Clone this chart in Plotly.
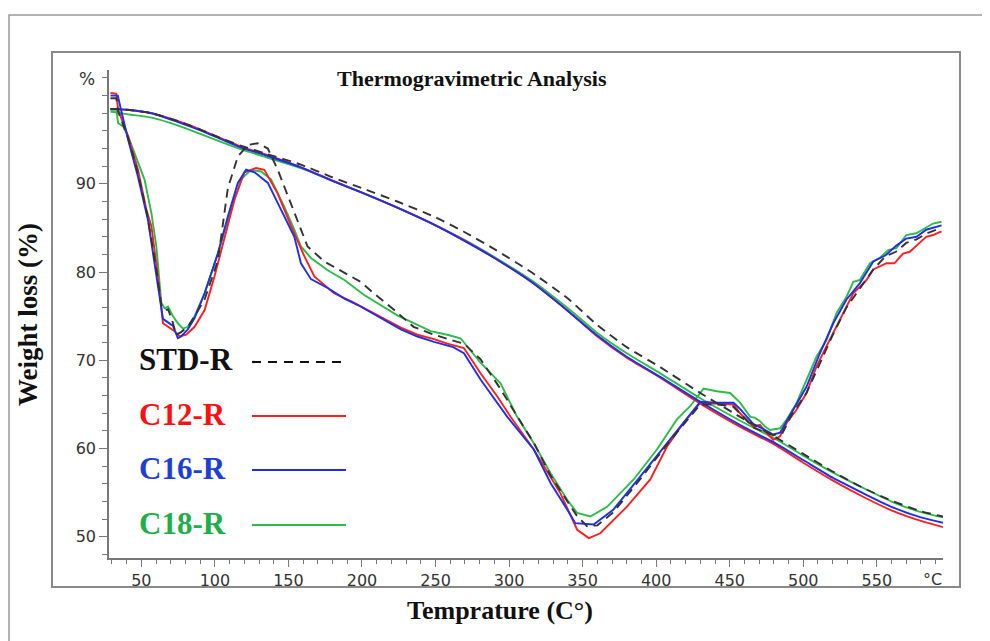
import plotly.graph_objects as go

# TG curves (smooth mass loss), shared temperature grid
tg_temp = [29, 40, 57, 75, 91, 105, 118, 135, 158, 179, 200, 224, 250, 269, 290,
           315, 340, 360, 380, 403, 430, 460, 480, 500, 520, 540, 560, 580, 595]
tg_std = [98.5, 98.4, 98.0, 97.1, 96.1, 95.1, 94.3, 93.4, 92.2, 90.8, 89.5, 88.0, 86.2, 84.6, 82.6,
          80.0, 77.0, 74.0, 71.5, 69.2, 66.3, 63.3, 61.4, 59.4, 57.4, 55.6, 54.1, 52.9, 52.3]
tg_c12 = [98.5, 98.4, 98.0, 97.1, 96.1, 95.1, 94.2, 93.3, 91.9, 90.45, 89.0, 87.3, 85.3, 83.65, 81.6,
          78.9, 75.6, 72.7, 70.3, 68.0, 65.1, 62.2, 60.5, 58.4, 56.4, 54.6, 53.0, 51.8, 51.1]
tg_c16 = [98.5, 98.4, 98.0, 97.0, 96.0, 95.0, 94.1, 93.2, 91.9, 90.4, 89.0, 87.3, 85.3, 83.6, 81.6,
          78.9, 75.6, 72.8, 70.4, 68.1, 65.3, 62.4, 60.7, 58.7, 56.7, 55.0, 53.4, 52.2, 51.6]
tg_c18 = [98.2, 97.9, 97.5, 96.6, 95.6, 94.7, 93.9, 93.0, 91.8, 90.4, 89.0, 87.3, 85.3, 83.7, 81.7,
          79.1, 75.9, 73.1, 70.8, 68.5, 65.7, 62.9, 61.2, 59.2, 57.3, 55.6, 54.0, 52.8, 52.2]

# DTG-like curves (the wavy ones)
std_t = [29, 33, 34.2, 41, 47.7, 54, 60, 63.6, 66, 68.1, 71, 73.7, 77, 81.6, 86.2, 93, 102, 108.8,
         115.6, 122.4, 129, 136, 142.7, 154, 163, 174.4, 188, 199, 208, 222, 235, 249, 264.8, 269.3,
         280.7, 294, 305, 317, 328, 340, 346, 353, 360, 371, 389, 407, 421, 430, 441, 452, 457, 466,
         472, 479.6, 486, 492, 502.2, 511, 520.4, 529.4, 538.5, 547.6, 556, 563, 570, 577, 584, 594]
std_v = [99.7, 99.7, 98.2, 95.2, 91.2, 86.5, 80.5, 76.3, 75.7, 75.8, 74.5, 72.9, 73.2, 73.8, 75.0,
         76.9, 81.3, 89.5, 93.1, 94.4, 94.6, 94.0, 91.6, 86.7, 82.9, 81.2, 79.9, 78.9, 77.6, 75.7,
         73.8, 72.9, 72.1, 71.9, 70.1, 66.8, 63.8, 60.6, 57.0, 53.9, 52.4, 51.2, 51.3, 52.8, 56.5,
         60.4, 63.2, 65.0, 65.0, 64.8, 64.0, 62.4, 62.0, 61.5, 61.8, 63.8, 66.3, 69.6, 73.0, 76.0,
         78.2, 80.3, 81.8, 82.3, 83.3, 83.7, 84.4, 85.0]

c12_t = [29, 33, 34.2, 41, 47.7, 53.4, 56.8, 61.3, 64.7, 68.1, 72.6, 76, 80.5, 86.2, 93, 99.7, 106.5,
         113.3, 120, 128, 133.6, 142.7, 151.8, 160.8, 167.6, 181, 192.5, 203.8, 215, 226.4, 237.7, 249,
         258, 269.3, 280.7, 292, 301, 316.8, 335, 346.3, 354.2, 362, 380, 396, 407.3, 418.6, 430, 441,
         452.6, 457, 466, 470.6, 475, 479.6, 484.2, 488.7, 495.4, 502.2, 509, 515.8, 524.9, 534, 543,
         547.6, 556.6, 562, 567.8, 572.4, 577, 583.6, 588.2, 594]
c12_v = [100.3, 100.2, 98.4, 95.4, 91.6, 87.1, 85.2, 79.5, 74.2, 73.8, 73.3, 72.7, 72.9, 73.8, 75.7,
         79.5, 84.0, 88.2, 91.3, 91.8, 91.6, 88.9, 85.2, 81.8, 79.5, 77.6, 76.7, 75.7, 74.8, 73.7,
         72.9, 72.4, 71.9, 71.4, 68.5, 65.9, 63.6, 59.9, 54.9, 50.8, 49.85, 50.4, 53.4, 56.5, 60.2,
         62.9, 65.2, 65.1, 65.0, 64.0, 62.5, 62.7, 61.75, 61.0, 61.4, 62.9, 64.4, 66.3, 69.3, 71.6,
         74.6, 77.6, 79.1, 80.3, 81.0, 81.0, 82.1, 82.3, 83.0, 84.0, 84.2, 84.6]

c16_t = [29, 34, 36, 41, 47.7, 54.5, 61.3, 64.7, 68.1, 71.5, 74.8, 77, 81.6, 86.2, 93, 102, 108.8,
         115.6, 121.2, 127, 136, 145, 154, 158.5, 165.3, 176.7, 188, 199, 215, 226.4, 237.7, 249, 262,
         269.3, 280.7, 298.8, 316.8, 328.2, 339.5, 345, 357.5, 371, 389, 407.3, 420.8, 430, 441, 452.6,
         457, 466, 472, 479.6, 484.2, 492, 502.2, 511.3, 520.4, 529.4, 538.5, 547.6, 556, 563.3, 570,
         577, 583.6, 594]
c16_v = [100.0, 100.0, 98.5, 95.0, 90.8, 85.9, 78.4, 74.7, 74.3, 73.9, 72.5, 72.7, 73.5, 74.8, 77.6,
         82.1, 86.3, 90.1, 91.6, 91.3, 90.1, 87.1, 84.0, 81.0, 79.2, 78.2, 77.0, 76.1, 74.6, 73.5,
         72.7, 72.1, 71.5, 70.8, 67.8, 63.6, 59.9, 56.1, 53.1, 51.55, 51.4, 53.1, 56.8, 60.6, 63.3,
         65.3, 65.2, 65.2, 64.5, 62.8, 62.3, 61.6, 61.8, 64.0, 67.0, 70.8, 74.2, 76.9, 78.75, 81.2,
         81.9, 83.0, 83.8, 84.0, 84.8, 85.3]

c18_t = [29, 33, 34.2, 37.6, 41, 47.7, 52.2, 56.8, 60.2, 63.6, 65.8, 68.1, 71.5, 74.8, 78.3, 81.6,
         86.2, 93, 102, 111, 117.8, 124.6, 131.3, 138.2, 147.2, 154, 158.5, 165.3, 176.7, 188, 201.5,
         224, 246.7, 258, 267, 280.7, 294.2, 305.5, 316.8, 328.2, 339.5, 346.3, 350, 355.3, 366.6,
         384.7, 400.5, 414.1, 423.1, 432.2, 441.2, 450.3, 457, 464, 467, 470.6, 474, 477.4, 484.2,
         488.7, 495.4, 502.2, 509, 515.8, 522.6, 529.4, 534, 538.5, 545.3, 552, 557.7, 563.3, 570,
         576.8, 583.6, 588.2, 594]
c18_v = [98.4, 98.4, 96.9, 96.5, 95.4, 92.3, 90.45, 86.7, 82.9, 76.5, 75.9, 76.1, 75.0, 74.2, 73.6,
         73.8, 75.0, 77.6, 82.1, 87.1, 90.5, 91.6, 91.4, 90.5, 87.4, 84.8, 82.9, 81.6, 80.2, 79.1,
         77.4, 75.1, 73.3, 72.9, 72.5, 69.7, 67.4, 63.6, 60.6, 57.2, 54.2, 52.7, 52.5, 52.3, 53.4,
         56.5, 59.9, 63.3, 64.8, 66.8, 66.5, 66.3, 65.2, 63.6, 63.5, 63.1, 62.5, 62.1, 62.3, 63.3,
         65.15, 67.8, 70.4, 72.3, 75.35, 77.2, 78.9, 79.1, 81.0, 81.6, 82.5, 82.7, 84.2, 84.4, 85.0,
         85.5, 85.7]

x_ticks = [50, 100, 150, 200, 250, 300, 350, 400, 450, 500, 550]
y_ticks = [50, 60, 70, 80, 90]

RED, BLUE, GREEN, BLACK = '#ff1f1f', '#1f2fe8', '#2dbb4a', '#333333'
DASH = '9px,6px'
SERIF = 'Liberation Serif, Times New Roman, serif'
SANS = 'DejaVu Sans, Verdana, sans-serif'

series = [
    ('STD-R', tg_std, std_t, std_v, BLACK, DASH, '#111111'),
    ('C12-R', tg_c12, c12_t, c12_v, RED, 'solid', '#ff1010'),
    ('C16-R', tg_c16, c16_t, c16_v, BLUE, 'solid', '#1e3ed6'),
    ('C18-R', tg_c18, c18_t, c18_v, GREEN, 'solid', '#1fae4a'),
]

fig = go.Figure()
# draw green first so red/blue/black sit on top like the original
for name, tg, dt, dv, col, dash, _ in [series[3], series[1], series[2], series[0]]:
    fig.add_trace(go.Scatter(x=tg_temp, y=tg, mode='lines', name=name,
                             line=dict(color=col, width=1.9, dash=dash, shape='spline', smoothing=0.6)))
    fig.add_trace(go.Scatter(x=dt, y=dv, mode='lines', name=name, showlegend=False,
                             line=dict(color=col, width=1.9, dash=dash)))

# page has an 8px body margin, so the figure is shrunk by that and positions offset
OFF = 8
W, H = 990 - OFF, 641 - OFF
L, T = 109 - OFF, 70 - OFF
R, B = OFF + W - 943, OFF + H - 558
pw, ph = W - L - R, H - T - B


def px(x):
    # page pixel x -> paper coordinate
    return (x - OFF - L) / pw


def py(y):
    # page pixel y -> paper coordinate
    return (H - B - (y - OFF)) / ph


shapes = []
# outer frame and inner frame
shapes.append(dict(type='rect', xref='paper', yref='paper', x0=px(9), x1=px(1000), y0=py(660), y1=py(15),
                   line=dict(color='#9a9a9a', width=1.5)))
shapes.append(dict(type='rect', xref='paper', yref='paper', x0=px(52), x1=px(960), y0=py(587), y1=py(52),
                   line=dict(color='#8a8a8a', width=2)))

annotations = []
# hand-drawn style legend: text then a line sample
leg_y = [360, 414, 468, 523]
for (name, _, _, _, col, dash, tcol), yy in zip(series, leg_y):
    annotations.append(dict(text='<b>%s</b>' % name, xref='paper', yref='paper', x=px(137), y=py(yy),
                            xanchor='left', yanchor='middle', showarrow=False,
                            font=dict(family=SERIF, size=31, color=tcol)))
    shapes.append(dict(type='line', xref='paper', yref='paper', x0=px(252), x1=px(346),
                       y0=py(yy + 2), y1=py(yy + 2),
                       line=dict(color=col if dash == 'solid' else '#111111', width=2.2,
                                 dash=dash if dash == 'solid' else '9px,7px')))

annotations += [
    dict(text='<b>Thermogravimetric Analysis</b>', xref='paper', yref='paper', x=px(472), y=py(78),
         xanchor='center', yanchor='middle', showarrow=False, font=dict(family=SERIF, size=22, color='#111')),
    dict(text='<b>Weight loss (%)</b>', xref='paper', yref='paper', x=px(28), y=py(315), textangle=-90,
         xanchor='center', yanchor='middle', showarrow=False, font=dict(family=SERIF, size=27, color='#111')),
    dict(text='<b>Temprature (C°)</b>', xref='paper', yref='paper', x=px(500), y=py(610),
         xanchor='center', yanchor='middle', showarrow=False, font=dict(family=SERIF, size=26, color='#111')),
    dict(text='%', xref='paper', yref='paper', x=px(97), y=py(79), xanchor='right', yanchor='middle',
         showarrow=False, font=dict(family=SANS, size=17, color='#333')),
    dict(text='°C', xref='paper', yref='paper', x=px(944), y=py(579), xanchor='right', yanchor='middle',
         showarrow=False, font=dict(family=SANS, size=16, color='#333')),
]

axis_common = dict(showline=True, linecolor='#777', linewidth=1.5, ticks='outside', tickcolor='#777',
                   tickwidth=1.2, showgrid=False, zeroline=False, mirror=False,
                   tickfont=dict(family=SANS, size=16, color='#333'))

fig.update_layout(
    width=W, height=H,
    margin=dict(l=L, r=R, t=T, b=B),
    paper_bgcolor='white', plot_bgcolor='white',
    showlegend=False,
    shapes=shapes, annotations=annotations,
    xaxis=dict(range=[28, 595], tickvals=x_ticks, ticklen=7,
               minor=dict(dtick=10, tick0=0, ticks='outside', ticklen=4, tickcolor='#777'),
               **axis_common),
    yaxis=dict(range=[47.6, 102.9], tickvals=y_ticks, ticklen=8,
               minor=dict(dtick=2, tick0=0, ticks='outside', ticklen=5, tickcolor='#777'),
               **axis_common),
)

fig.write_html("out.html")
